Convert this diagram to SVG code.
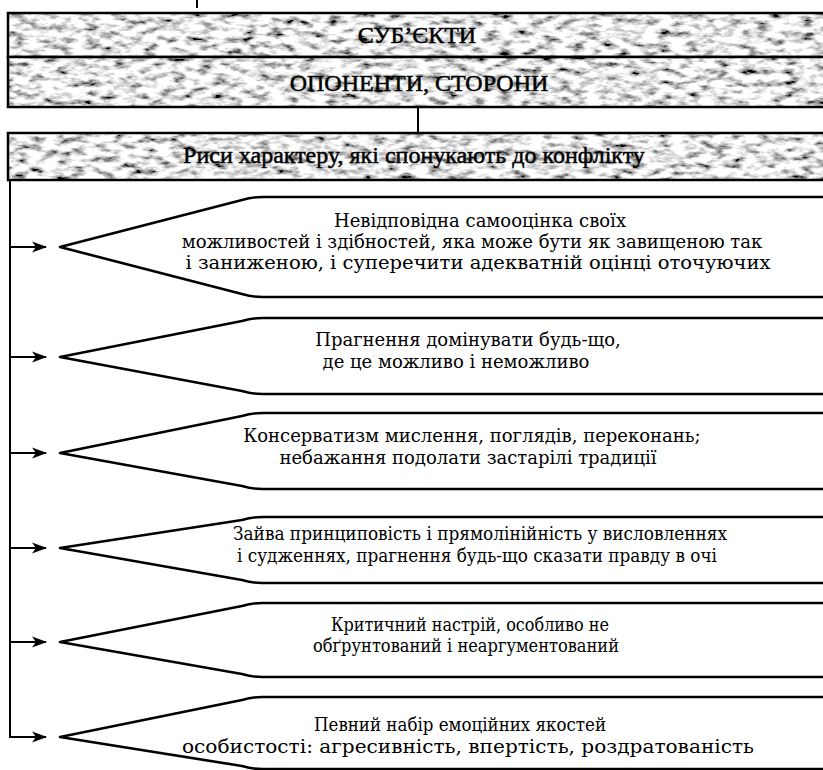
<svg xmlns="http://www.w3.org/2000/svg" width="823" height="770" viewBox="0 0 823 770">
<style>
.hdr{font-family:"Liberation Serif","Times New Roman",serif;font-size:24px;fill:#000;stroke:#000;stroke-width:0.5;text-anchor:middle}
.txt{font-family:"DejaVu Serif","Liberation Serif",serif;font-size:18px;fill:#000;text-anchor:middle}
.frame{fill:none;stroke:#000;stroke-width:2.5}
.shape{fill:#fff;stroke:#000;stroke-width:2.6;stroke-linejoin:round}
.con{fill:none;stroke:#000;stroke-width:2}
</style>
<defs>
<filter id="scan" x="0" y="0" width="1" height="1">
<feTurbulence type="fractalNoise" baseFrequency="0.07 0.16" numOctaves="3" seed="7" result="n"/>
<feColorMatrix in="n" type="matrix" values="2.6 0 0 0 -0.5  2.6 0 0 0 -0.5  2.6 0 0 0 -0.5  0 0 0 0 1"/>
</filter>
<marker id="arr" markerWidth="15" markerHeight="12" refX="14" refY="6" orient="auto" markerUnits="userSpaceOnUse">
<path d="M0,0.5 L15,6 L0,11.5 L4,6 z" fill="#000"/>
</marker>
</defs>
<rect width="823" height="770" fill="#fff"/>

<g id="subjects">
<rect x="8" y="13" width="830" height="44" fill="#999" filter="url(#scan)"/>
<rect x="8" y="13" width="830" height="44" class="frame"/>
<text x="417" y="43" class="hdr">СУБ’ЄКТИ</text>
</g>
<g id="opponents">
<rect x="8" y="57" width="830" height="50" fill="#999" filter="url(#scan)"/>
<rect x="8" y="57" width="830" height="50" class="frame"/>
<text x="419" y="91" class="hdr">ОПОНЕНТИ, СТОРОНИ</text>
</g>
<g id="traits">
<rect x="8" y="133" width="830" height="47" fill="#999" filter="url(#scan)"/>
<rect x="8" y="133" width="830" height="47" class="frame"/>
<text x="414" y="163" class="hdr">Риси характеру, які спонукають до конфлікту</text>
</g>

<g id="connectors">
<line x1="197" y1="0" x2="197" y2="8" class="con"/>
<line x1="418" y1="107" x2="418" y2="133" class="con"/>
<polyline points="10,180 10,737 46,737" class="con" marker-end="url(#arr)"/>
<line x1="10" y1="247" x2="46" y2="247" class="con" marker-end="url(#arr)"/>
<line x1="10" y1="357" x2="46" y2="357" class="con" marker-end="url(#arr)"/>
<line x1="10" y1="453" x2="46" y2="453" class="con" marker-end="url(#arr)"/>
<line x1="10" y1="548" x2="46" y2="548" class="con" marker-end="url(#arr)"/>
<line x1="10" y1="642" x2="46" y2="642" class="con" marker-end="url(#arr)"/>
</g>

<g id="trait1">
<path class="shape" d="M830,197 H262 Q252,197 242,200 L60,247 L242,294 Q252,297 262,297 H830"/>
<text class="txt" x="480" y="227">Невідповідна самооцінка своїх</text>
<text class="txt" x="472" y="248">можливостей і здібностей, яка може бути як завищеною так</text>
<text class="txt" x="478" y="269" textLength="585" lengthAdjust="spacingAndGlyphs">і заниженою, і суперечити адекватній оцінці оточуючих</text>
</g>
<g id="trait2">
<path class="shape" d="M830,318 H262 Q252,318 242,321 L60,357 L242,391 Q252,394 262,394 H830"/>
<text class="txt" x="468" y="346">Прагнення домінувати будь-що,</text>
<text class="txt" x="456" y="368">де це можливо і неможливо</text>
</g>
<g id="trait3">
<path class="shape" d="M830,413 H262 Q252,413 242,416 L60,453 L242,486 Q252,489 262,489 H830"/>
<text class="txt" x="472" y="442">Консерватизм мислення, поглядів, переконань;</text>
<text class="txt" x="468" y="464">небажання подолати застарілі традиції</text>
</g>
<g id="trait4">
<path class="shape" d="M830,517 H262 Q252,517 242,520 L60,548 L242,580 Q252,583 262,583 H830"/>
<text class="txt" x="480" y="540" textLength="494" lengthAdjust="spacingAndGlyphs">Зайва принциповість і прямолінійність у висловленнях</text>
<text class="txt" x="477" y="562" textLength="480" lengthAdjust="spacingAndGlyphs">і судженнях, прагнення будь-що сказати правду в очі</text>
</g>
<g id="trait5">
<path class="shape" d="M830,603 H262 Q252,603 242,606 L60,642 L242,674 Q252,677 262,677 H830"/>
<text class="txt" x="470" y="631" textLength="278" lengthAdjust="spacingAndGlyphs">Критичний настрій, особливо не</text>
<text class="txt" x="466" y="652" textLength="306" lengthAdjust="spacingAndGlyphs">обґрунтований і неаргументований</text>
</g>
<g id="trait6">
<path class="shape" d="M830,697 H262 Q252,697 242,700 L60,737 L242,766 Q252,769 262,769 H830"/>
<text class="txt" x="460" y="731" textLength="292" lengthAdjust="spacingAndGlyphs">Певний набір емоційних якостей</text>
<text class="txt" x="468" y="753" textLength="572" lengthAdjust="spacingAndGlyphs">особистості: агресивність, впертість, роздратованість</text>
</g>
</svg>
